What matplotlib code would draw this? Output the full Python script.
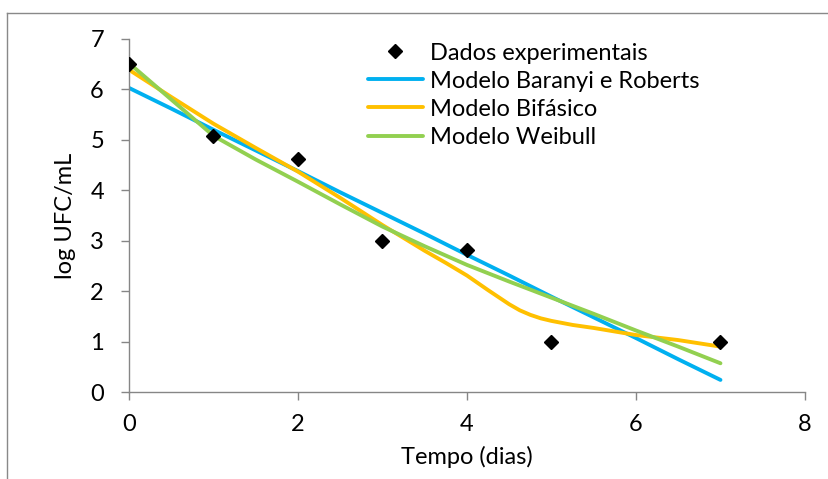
import matplotlib
matplotlib.use('Agg')
import matplotlib.pyplot as plt
from matplotlib.lines import Line2D

plt.rcParams['font.family'] = ['Lato', 'DejaVu Sans']

# dados experimentais
dias = [0, 1, 2, 3, 4, 5, 7]
log_ufc = [6.5, 5.08, 4.63, 3.0, 2.82, 1.0, 1.0]

# curvas dos modelos
t_mod = [0, 0.5, 1, 1.5, 2, 2.5, 3, 3.5, 4, 4.5, 5, 5.5, 6, 6.5, 7]
baranyi = [6.03, 5.62, 5.20, 4.79, 4.38, 3.96, 3.55, 3.14, 2.72, 2.31, 1.89, 1.48, 1.07, 0.65, 0.24]
weibull = [6.52, 5.80, 5.08, 4.61, 4.17, 3.72, 3.28, 2.89, 2.52, 2.19, 1.87, 1.55, 1.22, 0.90, 0.57]
t_bif = [0, 0.5, 1, 1.5, 2, 2.5, 3, 3.5, 3.75, 4, 4.25, 4.5, 4.625, 4.75, 4.875,
         5, 5.25, 5.5, 6, 6.5, 7]
bifasico = [6.39, 5.85, 5.32, 4.84, 4.37, 3.85, 3.31, 2.80, 2.56, 2.31, 2.02, 1.74, 1.62,
            1.53, 1.46, 1.41, 1.33, 1.27, 1.13, 1.03, 0.90]

xticks = [0, 2, 4, 6, 8]
yticks = [0, 1, 2, 3, 4, 5, 6, 7]

fs = 17

fig = plt.figure(figsize=(8.29, 4.79), dpi=100)
ax = fig.add_axes([0.1556, 0.1816, 0.971 - 0.1556, 0.9186 - 0.1816])

ax.plot(t_mod, baranyi, color='#00B0F0', lw=2.8, label='Modelo Baranyi e Roberts',
        solid_capstyle='round', zorder=2)
ax.plot(t_bif, bifasico, color='#FFC000', lw=2.8, label='Modelo Bifásico',
        solid_capstyle='round', solid_joinstyle='round', zorder=2)
ax.plot(t_mod, weibull, color='#92D050', lw=2.8, label='Modelo Weibull',
        solid_capstyle='round', solid_joinstyle='round', zorder=2)
ax.plot(dias, log_ufc, 'D', color='black', ms=7.5, ls='none',
        label='Dados experimentais', zorder=3)

ax.set_xlim(0, 8)
ax.set_ylim(0, 7)
ax.set_xticks(xticks)
ax.set_yticks(yticks)
ax.tick_params(labelsize=fs, length=6, width=1, color='#868686')
ax.tick_params(axis='x', pad=10)
ax.tick_params(axis='y', pad=12)

for s in ['top', 'right']:
    ax.spines[s].set_visible(False)
for s in ['left', 'bottom']:
    ax.spines[s].set_color('#868686')
    ax.spines[s].set_linewidth(1)

ax.set_xlabel('Tempo (dias)', fontsize=fs, labelpad=8)
ax.set_ylabel('log UFC/mL', fontsize=fs, labelpad=10)

h, l = ax.get_legend_handles_labels()
order = [3, 0, 1, 2]
ax.legend([h[i] for i in order], [l[i] for i in order], frameon=False,
          fontsize=fs, loc='upper left', bbox_to_anchor=(0.354, 0.99),
          handlelength=2.3, handletextpad=0.3, labelspacing=0.3,
          borderaxespad=0, borderpad=0)

# moldura do gráfico
fig.add_artist(Line2D([7 / 829, 7 / 829], [1 - 13 / 479, -0.1], color='#898989', lw=1))
fig.add_artist(Line2D([7 / 829, 1.1], [1 - 13 / 479, 1 - 13 / 479], color='#898989', lw=1))

fig.savefig('out.png', dpi=100)
